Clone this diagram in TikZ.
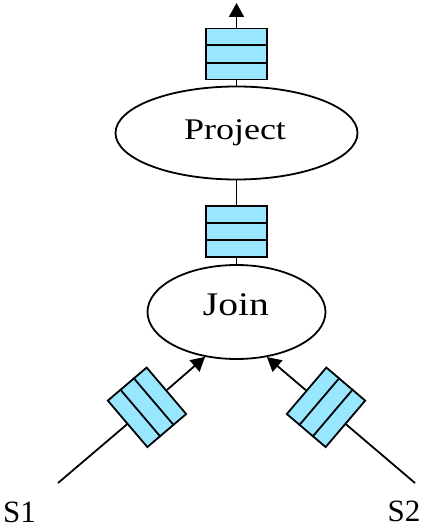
\documentclass[tikz,border=0pt]{standalone}
\usepackage{fontspec}
\setmainfont{Liberation Serif}
\newfontfamily\widefont[FakeStretch=1.2]{Liberation Serif}
\usetikzlibrary{shapes.geometric,arrows.meta,calc}
\definecolor{qfill}{RGB}{153,230,255}
\begin{document}
\begin{tikzpicture}[line width=1.8pt,
  queue/.style={draw, fill=qfill, rectangle, minimum width=61pt, minimum height=51pt, inner sep=0pt},
  op/.style={draw, ellipse, inner sep=0pt},
  arr/.style={-{Triangle[length=14pt,width=15pt]}},
  optext/.style={anchor=base, inner sep=0pt, font=\widefont\fontsize{#1}{36}\selectfont},
  srctext/.style={anchor=base, inner sep=0pt, font=\fontsize{31}{36}\selectfont}]
\useasboundingbox (0pt,0pt) rectangle (422pt,-529pt);
% operators
\node[op, minimum width=242pt, minimum height=93pt] (proj) at (236.5pt,-133pt) {};
\node[optext=30] (projtext) at (235pt,-140pt) {Project};
\node[op, minimum width=178pt, minimum height=94pt] (join) at (236.5pt,-312pt) {};
\node[optext=33] (jointext) at (236pt,-315pt) {Join};
% queues
\node[queue] (q1) at (236.5pt,-54pt) {};
\node[queue] (q2) at (236.5pt,-231.5pt) {};
\node[queue, rotate=-49.6] (q3) at (147pt,-407.3pt) {};
\node[queue, rotate=49.6] (q4) at (326pt,-407.3pt) {};
\foreach \q in {q1,q2,q3,q4}{
  \draw ($(\q.north west)!1/3!(\q.south west)$) -- ($(\q.north east)!1/3!(\q.south east)$);
  \draw ($(\q.north west)!2/3!(\q.south west)$) -- ($(\q.north east)!2/3!(\q.south east)$);
}
% sources
\coordinate (s1start) at (58pt,-483pt);
\coordinate (s2start) at (415pt,-483pt);
\coordinate (topend) at (236.5pt,-3pt);
\node[srctext] (s1) at (19.5pt,-522pt) {S1};
\node[srctext] (s2) at (404pt,-521pt) {S2};
% connectors
\draw[arr] (q1) -- (topend);
\draw (proj) -- (q1);
\draw (q2) -- (proj);
\draw (join) -- (q2);
\draw (s1start) -- (q3);
\draw[arr] (q3) -- (join.235.6);
\draw (s2start) -- (q4);
\draw[arr] (q4) -- (join.304.4);
\end{tikzpicture}
\end{document}
